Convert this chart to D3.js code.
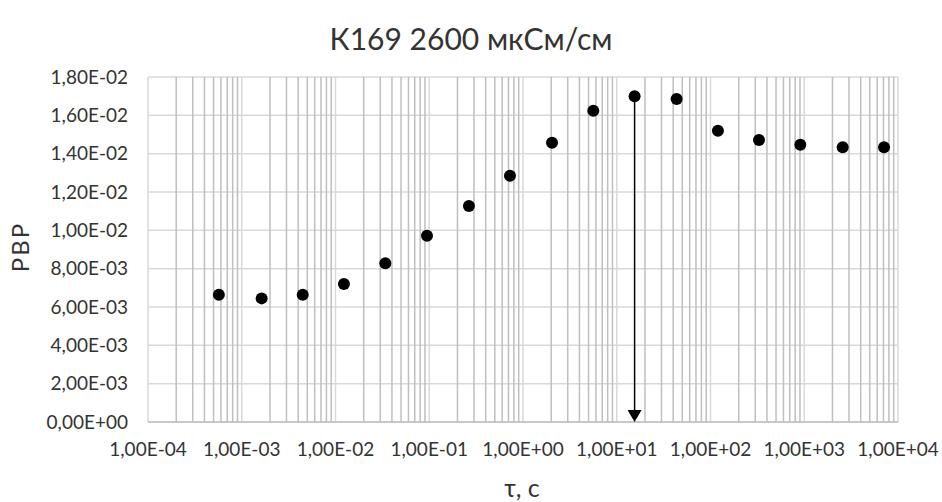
<!DOCTYPE html>
<html>
<head>
<meta charset="utf-8">
<script src="https://cdn.jsdelivr.net/npm/d3@7"></script>
<style>
    body { margin: 0; background: #fff; }
    text { font-family: Lato, "Open Sans", sans-serif; fill: #333; }
</style>
</head>
<body>
<div id="chart"></div>
<script>
// values
const tau = [5.7e-4, 1.63e-3, 4.47e-3, 1.23e-2, 3.4e-2, 9.46e-2, 2.65e-1, 7.26e-1,
    2.04, 5.62, 15.5, 43.5, 120, 329, 908, 2570, 7100];
const pvp = [0.00664, 0.00645, 0.00664, 0.00720, 0.00828, 0.00972, 0.01127, 0.01285,
    0.01457, 0.01624, 0.01699, 0.01685, 0.01520, 0.01471, 0.01447, 0.01433, 0.01433];
const xTicks = [1e-4, 1e-3, 1e-2, 1e-1, 1e0, 1e1, 1e2, 1e3, 1e4];
const yTicks = [0, 0.002, 0.004, 0.006, 0.008, 0.010, 0.012, 0.014, 0.016, 0.018];
const arrowIndex = 10; // point marked with the arrow

function init() {
    const W = 942, H = 502;
    const margin = { top: 77, right: 44, bottom: 80, left: 148 },
        width = W - margin.left - margin.right,
        height = H - margin.top - margin.bottom;

    const root = d3.select("#chart").append("svg")
        .attr("width", W).attr("height", H);

    const svg = root.append("g")
        .attr("transform", `translate(${margin.left},${margin.top})`);

    const x = d3.scaleLog().domain([1e-4, 1e4]).range([0, width]);
    const y = d3.scaleLinear().domain([0, 0.018]).range([height, 0]);

    // number format like Excel "1,00E-02"
    const sci = v => {
        if (v === 0) return "0,00E+00";
        const e = Math.floor(Math.log10(v) + 1e-9);
        const m = v / Math.pow(10, e);
        const es = (e < 0 ? "-" : "+") + String(Math.abs(e)).padStart(2, "0");
        return m.toFixed(2).replace(".", ",") + "E" + es;
    };

    // horizontal gridlines
    svg.append("g").selectAll("line")
        .data(yTicks)
        .join("line")
        .attr("x1", 0).attr("x2", width)
        .attr("y1", d => y(d)).attr("y2", d => y(d))
        .attr("stroke", "#d9d9d9").attr("stroke-width", 1.5);

    // minor vertical gridlines (2..9 in each decade)
    const minor = [];
    xTicks.slice(0, -1).forEach(t => {
        for (let k = 2; k <= 9; k++) minor.push(t * k);
    });
    svg.append("g").selectAll("line")
        .data(minor)
        .join("line")
        .attr("x1", d => x(d)).attr("x2", d => x(d))
        .attr("y1", 0).attr("y2", height)
        .attr("stroke", "#bfbfbf").attr("stroke-width", 1.5);

    // major vertical gridlines
    svg.append("g").selectAll("line")
        .data(xTicks)
        .join("line")
        .attr("x1", d => x(d)).attr("x2", d => x(d))
        .attr("y1", 0).attr("y2", height)
        .attr("stroke", "#d9d9d9").attr("stroke-width", 1.5);

    // bottom axis line
    svg.append("line")
        .attr("x1", 0).attr("x2", width)
        .attr("y1", height).attr("y2", height)
        .attr("stroke", "#bfbfbf").attr("stroke-width", 1.5);

    // tick labels
    svg.append("g").selectAll("text")
        .data(yTicks)
        .join("text")
        .attr("x", -20)
        .attr("y", d => y(d))
        .attr("dy", "0.35em")
        .attr("text-anchor", "end")
        .style("font-size", "19px")
        .text(sci);

    svg.append("g").selectAll("text")
        .data(xTicks)
        .join("text")
        .attr("x", d => x(d))
        .attr("y", height + 34)
        .attr("text-anchor", "middle")
        .style("font-size", "19px")
        .text(sci);

    // arrow from marked point down to the axis
    const ax = x(tau[arrowIndex]);
    svg.append("line")
        .attr("x1", ax).attr("x2", ax)
        .attr("y1", y(pvp[arrowIndex])).attr("y2", height - 10)
        .attr("stroke", "#000").attr("stroke-width", 1.5);
    svg.append("path")
        .attr("d", `M${ax - 7},${height - 12} L${ax + 7},${height - 12} L${ax},${height} Z`)
        .attr("fill", "#000");

    // points
    svg.append("g").selectAll("circle")
        .data(tau)
        .join("circle")
        .attr("cx", d => x(d))
        .attr("cy", (d, i) => y(pvp[i]))
        .attr("r", 6)
        .attr("fill", "#000");

    // titles
    root.append("text")
        .attr("x", 471).attr("y", 50)
        .attr("text-anchor", "middle")
        .style("font-size", "30px")
        .text("К169 2600 мкСм/см");

    root.append("text")
        .attr("transform", `translate(29,247) rotate(-90)`)
        .attr("text-anchor", "middle")
        .style("font-size", "24px")
        .style("letter-spacing", "2px")
        .text("РВР");

    root.append("text")
        .attr("x", 522).attr("y", 497)
        .attr("text-anchor", "middle")
        .style("font-size", "25px")
        .text("τ, с");
}

window.onload = init;
</script>
</body>
</html>
